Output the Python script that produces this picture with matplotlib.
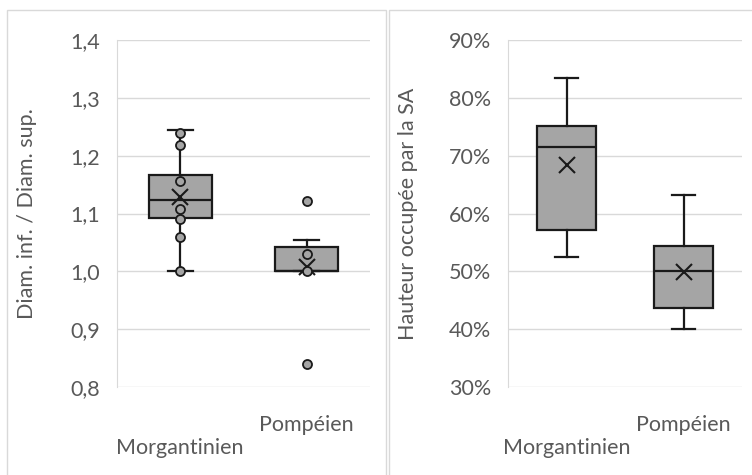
import matplotlib
matplotlib.use("Agg")
import matplotlib.pyplot as plt
from matplotlib.patches import Rectangle
from matplotlib.ticker import FuncFormatter, MultipleLocator
from matplotlib.transforms import blended_transform_factory

plt.rcParams['font.family'] = ['Lato', 'DejaVu Sans']

categories = ["Morgantinien", "Pompéien"]

# Left chart: Diam. inf. / Diam. sup.
ratio_q1 = [1.092, 1.000]
ratio_med = [1.123, 1.000]
ratio_q3 = [1.166, 1.042]
ratio_whislo = [1.000, 1.000]
ratio_whishi = [1.244, 1.055]
ratio_mean = [1.128, 1.008]
ratio_points = [
    [1.239, 1.218, 1.156, 1.108, 1.090, 1.060, 1.000],
    [1.122, 1.030, 1.000, 0.840],
]

# Right chart: Hauteur occupée par la SA (%)
haut_q1 = [57.2, 43.7]
haut_med = [71.5, 50.1]
haut_q3 = [75.2, 54.4]
haut_whislo = [52.5, 40.0]
haut_whishi = [83.4, 63.2]
haut_mean = [68.4, 49.8]

W, H = 752, 475
fig = plt.figure(figsize=(W / 100, H / 100), dpi=100)

# panel frames
for (x0, x1) in [(7, 386), (389, 760)]:
    fig.patches.append(Rectangle((x0 / W, -0.05), (x1 - x0) / W, (H - 10) / H + 0.05,
                                 transform=fig.transFigure, fill=False,
                                 edgecolor='#d9d9d9', linewidth=1.0))

GRAY = '#595959'
GRID = '#d9d9d9'
BOXC = '#a5a5a5'
FS = 15.5


def make_ax(x0, x1):
    top, bot = 40, 387
    return fig.add_axes([x0 / W, 1 - bot / H, (x1 - x0) / W, (bot - top) / H])


def draw(ax, q1, med, q3, lo, hi, mean, points, ylim, step, fmt, ylabel, label_x):
    stats = []
    for i in range(len(categories)):
        stats.append(dict(med=med[i], q1=q1[i], q3=q3[i], whislo=lo[i], whishi=hi[i],
                          mean=mean[i], fliers=[], label=categories[i]))
    ax.bxp(stats, positions=[1, 2], widths=0.5, showmeans=True, meanline=False,
           patch_artist=True, showfliers=False,
           boxprops=dict(facecolor=BOXC, edgecolor='#1a1a1a', linewidth=1.6),
           medianprops=dict(color='#1a1a1a', linewidth=1.6),
           whiskerprops=dict(color='#1a1a1a', linewidth=1.6),
           capprops=dict(color='#1a1a1a', linewidth=1.6),
           meanprops=dict(marker='x', markeredgecolor='#1a1a1a', markersize=11,
                          markeredgewidth=1.5), capwidths=0.2)
    if points is not None:
        for i, pts in enumerate(points):
            ax.plot([i + 1] * len(pts), pts, 'o', markerfacecolor=BOXC,
                    markeredgecolor='#1a1a1a', markersize=6.5, markeredgewidth=1.3,
                    zorder=5)
    ax.set_xlim(0.5, 2.5)
    ax.set_ylim(*ylim)
    ax.yaxis.set_major_locator(MultipleLocator(step))
    ax.yaxis.set_major_formatter(FuncFormatter(fmt))
    ax.grid(axis='y', color=GRID, linewidth=1.0)
    ax.set_axisbelow(True)
    for s in ['top', 'right', 'bottom']:
        ax.spines[s].set_visible(False)
    ax.spines['left'].set_color(GRID)
    ax.tick_params(axis='y', length=0, pad=12, labelsize=FS, labelcolor=GRAY)
    ax.tick_params(axis='x', length=0, labelbottom=False)
    ax.set_ylabel(ylabel, fontsize=FS, color=GRAY)
    ax.yaxis.set_label_coords(label_x, 1 - 213.5 / H, transform=fig.transFigure)
    tr = blended_transform_factory(ax.transData, fig.transFigure)
    ax.text(2, 1 - 425 / H, categories[1], transform=tr, ha='center', va='center',
            fontsize=FS, color=GRAY)
    ax.text(1, 1 - 448 / H, categories[0], transform=tr, ha='center', va='center',
            fontsize=FS, color=GRAY)


axL = make_ax(117, 370)
draw(axL, ratio_q1, ratio_med, ratio_q3, ratio_whislo, ratio_whishi, ratio_mean,
     ratio_points, (0.8, 1.4), 0.1, lambda v, p: f"{v:.1f}".replace('.', ','),
     "Diam. inf. / Diam. sup.", 37 / W)

axR = make_ax(508, 742)
draw(axR, haut_q1, haut_med, haut_q3, haut_whislo, haut_whishi, haut_mean,
     None, (30, 90), 10, lambda v, p: f"{v:.0f}%", "Hauteur occupée par la SA", 418 / W)

fig.savefig("out.png", dpi=100)
